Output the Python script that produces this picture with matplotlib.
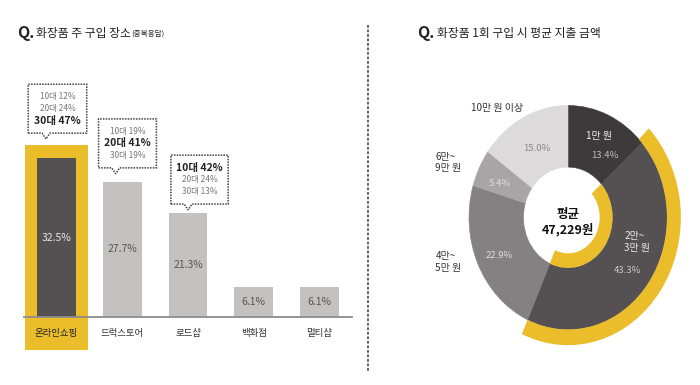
import numpy as np
import matplotlib
matplotlib.use('Agg')
import matplotlib.pyplot as plt
from matplotlib.patches import Polygon, Wedge

plt.rcParams['font.family'] = ['Noto Sans CJK KR', 'DejaVu Sans']

# data: left chart (purchase place, multiple answers)
places = ['온라인쇼핑', '드럭스토어', '로드샵', '백화점', '멀티샵']
place_pct = [32.5, 27.7, 21.3, 6.1, 6.1]
ages = ['10대', '20대', '30대']
age_pct = [[12, 24, 47], [19, 41, 19], [42, 24, 13]]   # callouts for first three bars

# data: right chart (average spend per purchase)
spend_labels = ['1만 원', '2만~\n3만 원', '4만~\n5만 원', '6만~\n9만 원', '10만 원 이상']
spend_pct = [13.4, 43.3, 22.9, 5.4, 15.0]
avg_text = '평균\n47,229원'

YELLOW = '#ECBD2B'
W, H = 700, 385
fig = plt.figure(figsize=(7, 3.85), dpi=100)


def px_axes(x0, y0, x1, y1):
    return fig.add_axes([x0 / W, 1 - y1 / H, (x1 - x0) / W, (y1 - y0) / H])


# titles
fig.text(17 / W, 1 - 33 / H, 'Q.', fontsize=11.5, fontweight='bold', color='#222', va='center')
fig.text(36 / W, 1 - 33 / H, '화장품 주 구입 장소', fontsize=8.5, color='#222', va='center')
fig.text(131 / W, 1 - 34 / H, '(중복응답)', fontsize=5.5, color='#222', va='center')
fig.text(417 / W, 1 - 33 / H, 'Q.', fontsize=11.5, fontweight='bold', color='#222', va='center')
fig.text(437 / W, 1 - 33 / H, '화장품 1회 구입 시 평균 지출 금액', fontsize=8.5, color='#222', va='center')

# dashed separator
fig.add_artist(plt.Line2D([368 / W, 368 / W], [1 - 25 / H, 1 - 372 / H],
                          color='#555', lw=1.3, ls=(0, (1.5, 1.0))))

# ---- bar chart ----
ax = px_axes(23.6, 60, 352.4, 317)
ax.set_xlim(-0.5, 4.5)
ax.set_ylim(0, 257 / 4.89)
ax.axis('off')
x = np.arange(len(places))
colors = ['#545153'] + ['#C5C1C1'] * (len(places) - 1)
ax.bar(0, place_pct[0] + 2.7 + 6.8, bottom=-6.8, width=0.96, color=YELLOW,
       zorder=0, clip_on=False)
ax.bar(x, place_pct, width=0.59, color=colors, zorder=1)
ax.axhline(0, color='#8C8C8C', lw=1.3, zorder=3, clip_on=False)
for i, v in enumerate(place_pct):
    ax.text(i, v / 2, f'{v}%', ha='center', va='center', fontsize=7.5,
            color='#E6E6E6' if i == 0 else '#555', zorder=4)
    ax.text(i, -3.3, places[i], ha='center', va='center', fontsize=6.8,
            color='#222' if i == 0 else '#333', clip_on=False)

# callout boxes (left, right, pointer offsets relative to bar centre; gap above bar)
box_layout = [(-0.43, 0.46, -0.16, 5.1), (-0.36, 0.52, -0.10, 2.8), (-0.26, 0.61, 0.0, 1.8)]
for i, vals in enumerate(age_pct):
    l, r, t, gap = box_layout[i]
    b = place_pct[i] + gap
    top = b + 10
    pts = [(i + l, b), (i + t - 0.06, b), (i + t, b - 1.2), (i + t + 0.06, b),
           (i + r, b), (i + r, top), (i + l, top)]
    ax.add_patch(Polygon(pts, closed=True, facecolor='white', edgecolor='#444',
                         lw=1.1, ls=(0, (1, 0.8)), zorder=5, clip_on=False))
    cx = i + (l + r) / 2
    cy = (b + top) / 2
    big = int(np.argmax(vals))
    for j, (a, p) in enumerate(zip(ages, vals)):
        y = cy + (1 - j) * 2.45
        if j == big:
            ax.text(cx, y, f'{a} {p}%', ha='center', va='center', fontsize=7.5,
                    fontweight='bold', color='#222', zorder=6)
        else:
            ax.text(cx, y, f'{a} {p}%', ha='center', va='center', fontsize=6,
                    color='#777', zorder=6)

# ---- donut ----
cx_px, cy_px, rx, ry = 568, 217.5, 99, 112
dx = px_axes(410, 55, 700, 380)
dx.axis('off')

spend_colors = ['#3E3A3B', '#555153', '#858183', '#A9A5A6', '#DCDADA']
hole = 0.45
wedges, _ = dx.pie(spend_pct, startangle=90, counterclock=False, radius=1,
                   colors=spend_colors,
                   wedgeprops=dict(width=1 - hole, linewidth=0.4))
for w, c in zip(wedges, spend_colors):
    w.set_edgecolor(c)
dx.set_aspect('auto')
dx.set_xlim((410 - cx_px) / rx, (700 - cx_px) / rx)
dx.set_ylim((cy_px - 380) / ry, (cy_px - 55) / ry)

cum = np.cumsum([0] + spend_pct)
th_start = 90 - 360 * cum[1] / 100
th_end = 90 - 360 * cum[2] / 100
dx.add_patch(Wedge((0, 0), 1.14, th_end, th_start + 2.5, width=0.14,
                   facecolor=YELLOW, edgecolor='none'))
dx.add_patch(Wedge((0, 0), hole, th_end, th_start, width=0.13,
                   facecolor=YELLOW, edgecolor='none'))

dx.text(0, -0.04, avg_text, ha='center', va='center', fontsize=9,
        fontweight='bold', color='#111', linespacing=1.15)

# slice labels
name_pos = [(0.31, 0.73), (0.70, -0.22), (-1.21, -0.40), (-1.21, 0.49), (-0.72, 0.98)]
pct_pos = [(0.37, 0.55), (0.60, -0.47), (-0.69, -0.34), (-0.69, 0.30), (-0.31, 0.62)]
name_col = ['#F2F2F2', '#E8E8E8', '#333', '#333', '#333']
pct_col = ['#BDBDBD', '#C8C8C8', '#DDDDDD', '#DDDDDD', '#8A8A8A']
for i in range(len(spend_pct)):
    ha = 'left' if i in (1, 2, 3) else 'center'
    nx, ny = name_pos[i]
    if ha == 'left':
        nx -= 0.13
    dx.text(nx, ny, spend_labels[i], ha=ha, va='center', fontsize=7.2,
            color=name_col[i], linespacing=1.2)
    px, py = pct_pos[i]
    dx.text(px, py, f'{spend_pct[i]}%', ha='center', va='center', fontsize=6.8,
            color=pct_col[i])

fig.savefig('out.png', dpi=100, facecolor='white')
